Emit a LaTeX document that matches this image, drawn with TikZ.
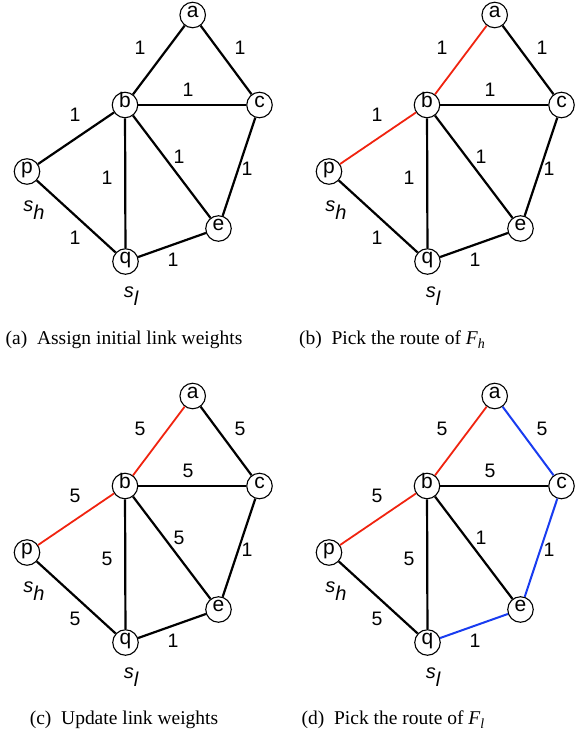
\documentclass[tikz,border=0pt]{standalone}
\usepackage{fontspec}
\setmainfont{Liberation Serif}
\setsansfont{Liberation Sans}
\definecolor{rred}{RGB}{240,35,15}
\definecolor{rblue}{RGB}{25,60,240}
\tikzset{
  vert/.style={circle, draw=black, line width=1.1pt, fill=white, minimum size=25.5pt, inner sep=0pt,
    text height=1ex, text depth=0pt, font=\sffamily\fontsize{21}{21}\selectfont},
  link/.style={line width=2.2pt, black},
  redlink/.style={line width=1.8pt, rred},
  bluelink/.style={line width=2pt, rblue},
  wlabel/.style={font=\sffamily\fontsize{19.5}{19.5}\selectfont, inner sep=0pt},
  srclabel/.style={font=\sffamily\itshape\fontsize{20}{20}\selectfont, inner sep=0pt},
  captext/.style={font=\fontsize{19.5}{20}\selectfont, inner sep=0pt},
}
\newcommand\drawgraph[3]{%
  \begin{scope}[shift={(#2,#3)}]
    \node[vert] (#1a) at (192.7,-15) {a};
    \node[vert] (#1b) at (125,-105) {b};
    \node[vert] (#1c) at (259.5,-105) {c};
    \node[vert] (#1p) at (27,-171.5) {p};
    \node[vert] (#1e) at (218.5,-228.5) {e};
    \node[vert] (#1q) at (125.5,-261.5) {q};
    \draw[eab] (#1a) -- (#1b);
    \draw[eac] (#1a) -- (#1c);
    \draw[ebc] (#1b) -- (#1c);
    \draw[epb] (#1p) -- (#1b);
    \draw[ebq] (#1b) -- (#1q);
    \draw[ebe] (#1b) -- (#1e);
    \draw[ece] (#1c) -- (#1e);
    \draw[epq] (#1p) -- (#1q);
    \draw[eqe] (#1q) -- (#1e);
    \node[wlabel] (#1wab) at (140,-48) {\wab};
    \node[wlabel] (#1wac) at (240,-48) {\wac};
    \node[wlabel] (#1wbc) at (188,-90) {\wbc};
    \node[wlabel] (#1wpb) at (75,-115) {\wpb};
    \node[wlabel] (#1wbq) at (107,-178) {\wbq};
    \node[wlabel] (#1wbe) at (179,-157) {\wbe};
    \node[wlabel] (#1wce) at (247,-169) {\wce};
    \node[wlabel] (#1wpq) at (75,-238) {\wpq};
    \node[wlabel] (#1wqe) at (173,-260) {\wqe};
    \node[srclabel, anchor=base] (#1sh) at (34,-211) {s\raisebox{-0.42em}{h}};
    \node[srclabel, anchor=base] (#1sl) at (131,-297) {s\raisebox{-0.42em}{l}};
  \end{scope}}
\begin{document}
\begin{tikzpicture}[x=1pt,y=1pt]
  \useasboundingbox (0,0) rectangle (584,-739);
  % panel (a)
  \tikzset{eab/.style={link},eac/.style={link},ebc/.style={link},epb/.style={link},ebq/.style={link},
    ebe/.style={link},ece/.style={link},epq/.style={link},eqe/.style={link}}
  \def\wab{1}\def\wac{1}\def\wbc{1}\def\wpb{1}\def\wbq{1}\def\wbe{1}\def\wce{1}\def\wpq{1}\def\wqe{1}
  \drawgraph{A}{0}{0}
  % panel (b)
  \tikzset{eab/.style={redlink},epb/.style={redlink}}
  \drawgraph{B}{302}{0}
  % panel (c)
  \def\wab{5}\def\wac{5}\def\wbc{5}\def\wpb{5}\def\wbq{5}\def\wbe{5}\def\wce{1}\def\wpq{5}\def\wqe{1}
  \drawgraph{C}{0}{-381}
  % panel (d)
  \tikzset{eac/.style={bluelink},ece/.style={bluelink},eqe/.style={bluelink}}
  \def\wbe{1}
  \drawgraph{D}{302}{-381}
  % captions
  \node[captext, anchor=base] (capa) at (124,-344) {(a)\ \ Assign initial link weights};
  \node[captext, anchor=base] (capb) at (392,-344) {(b)\ \ Pick the route of \textit{F}\raisebox{-0.25em}{\fontsize{14}{14}\selectfont\textit{h}}};
  \node[captext, anchor=base] (capc) at (124,-724) {(c)\ \ Update link weights};
  \node[captext, anchor=base] (capd) at (393,-724) {(d)\ \ Pick the route of \textit{F}\raisebox{-0.25em}{\fontsize{14}{14}\selectfont\textit{l}}};
\end{tikzpicture}
\end{document}
